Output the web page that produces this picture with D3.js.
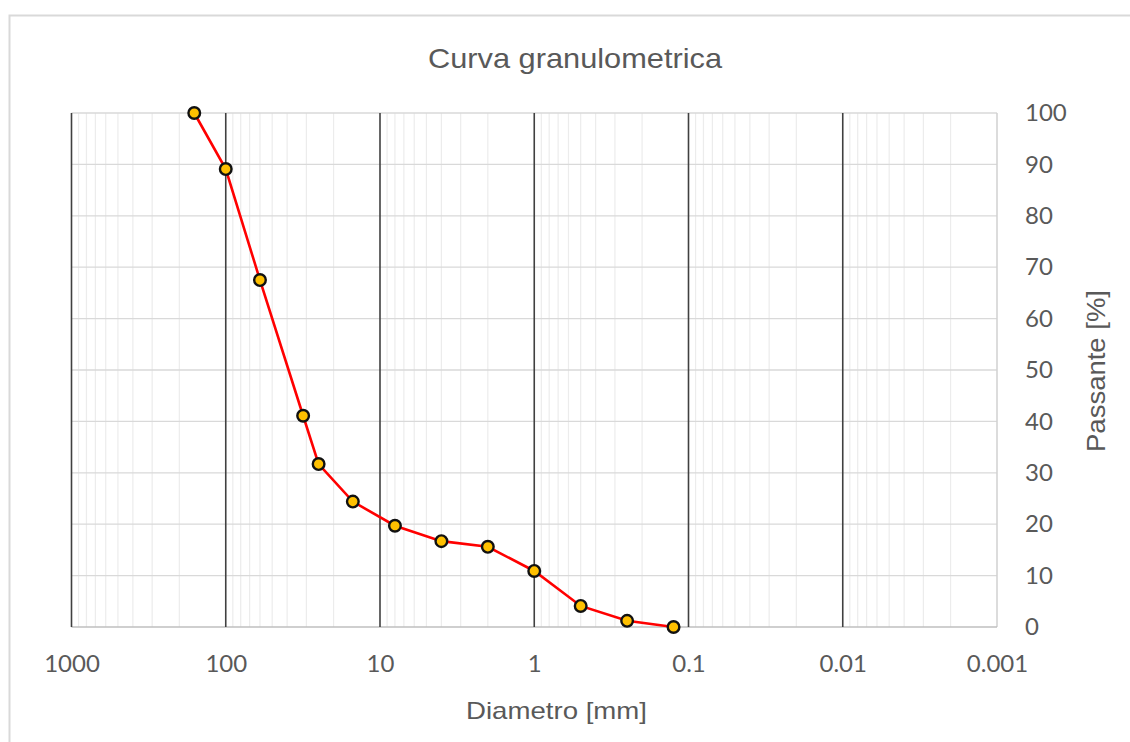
<!DOCTYPE html>
<html>
<head>
<meta charset="utf-8">
<script src="https://cdn.jsdelivr.net/npm/d3@7"></script>
<style>
  body { margin: 0; background: #fff; }
</style>
</head>
<body>
<div class="granviz"></div>
<script>
// sieve data
const diameters = [160, 100, 60, 31.5, 25, 15, 8, 4, 2, 1, 0.5, 0.25, 0.125];
const passing = [100, 89.1, 67.5, 41.1, 31.7, 24.4, 19.7, 16.7, 15.6, 10.9, 4.1, 1.2, 0];
const xTicks = [1000, 100, 10, 1, 0.1, 0.01, 0.001];
const yTicks = [0, 10, 20, 30, 40, 50, 60, 70, 80, 90, 100];

const W = 1130, H = 742;
const margin = { top: 113, right: 133, bottom: 115, left: 71.5 },
    width = W - margin.left - margin.right,
    height = H - margin.top - margin.bottom;

const svg = d3.select(".granviz")
    .append("svg")
    .attr("width", W)
    .attr("height", H);

// outer chart frame
svg.append("rect")
    .attr("x", 9.5).attr("y", 15.5)
    .attr("width", W).attr("height", H)
    .attr("fill", "none")
    .attr("stroke", "#d9d9d9")
    .attr("stroke-width", 2);

const g = svg.append("g")
    .attr("transform", `translate(${margin.left},${margin.top})`);

const x = d3.scaleLog()
    .domain([1000, 0.001])
    .range([0, width]);

const y = d3.scaleLinear()
    .domain([0, 100])
    .range([height, 0]);

// minor vertical grid (2..9 in each decade)
const minor = [];
for (let e = -3; e < 3; e++) {
    for (let m = 2; m <= 9; m++) minor.push(m * Math.pow(10, e));
}
g.selectAll(".minor")
    .data(minor)
    .join("line")
    .attr("x1", d => x(d)).attr("x2", d => x(d))
    .attr("y1", 0).attr("y2", height)
    .attr("stroke", "#ececec")
    .attr("stroke-width", 1.2);

// horizontal grid
g.selectAll(".hgrid")
    .data(yTicks.slice(1))
    .join("line")
    .attr("x1", 0).attr("x2", width)
    .attr("y1", d => y(d)).attr("y2", d => y(d))
    .attr("stroke", "#d9d9d9")
    .attr("stroke-width", 1.3);

// right edge + bottom axis line
g.append("line")
    .attr("x1", width).attr("x2", width)
    .attr("y1", 0).attr("y2", height)
    .attr("stroke", "#d0d0d0").attr("stroke-width", 1.5);
g.append("line")
    .attr("x1", 0).attr("x2", width)
    .attr("y1", height).attr("y2", height)
    .attr("stroke", "#bfbfbf").attr("stroke-width", 1.5);

// major decade lines
g.selectAll(".major")
    .data(xTicks.slice(0, -1))
    .join("line")
    .attr("x1", d => x(d)).attr("x2", d => x(d))
    .attr("y1", 0).attr("y2", height)
    .attr("stroke", "#404040")
    .attr("stroke-width", 1.6);

// x tick labels
const xAxis = g.append("g")
    .attr("transform", `translate(0, ${height})`)
    .call(d3.axisBottom(x).tickValues(xTicks).tickFormat(d => String(d)).tickSize(0).tickPadding(28));
xAxis.select(".domain").remove();
xAxis.selectAll("text")
    .style("font-family", "Lato, 'Open Sans', sans-serif")
    .style("font-size", "24px")
    .attr("fill", "#595959");

// y tick labels on right
const yAxis = g.append("g")
    .attr("transform", `translate(${width}, 0)`)
    .call(d3.axisRight(y).tickValues(yTicks).tickSize(0).tickPadding(28));
yAxis.select(".domain").remove();
yAxis.selectAll("text")
    .style("font-family", "Lato, 'Open Sans', sans-serif")
    .style("font-size", "24px")
    .attr("fill", "#595959");

// line + markers
const pts = diameters.map((d, i) => ({ d: d, p: passing[i] }));
g.append("path")
    .datum(pts)
    .attr("fill", "none")
    .attr("stroke", "#ff0000")
    .attr("stroke-width", 2.6)
    .attr("d", d3.line().x(d => x(d.d)).y(d => y(d.p)));

g.selectAll(".pt")
    .data(pts)
    .join("circle")
    .attr("cx", d => x(d.d))
    .attr("cy", d => y(d.p))
    .attr("r", 5.8)
    .attr("fill", "#ffc000")
    .attr("stroke", "#111")
    .attr("stroke-width", 2.4);

// titles
svg.append("text")
    .attr("x", 575).attr("y", 68)
    .attr("text-anchor", "middle")
    .attr("textLength", 294).attr("lengthAdjust", "spacingAndGlyphs")
    .style("font-family", "'Liberation Sans', Arial, sans-serif")
    .style("font-size", "28px")
    .attr("fill", "#595959")
    .text("Curva granulometrica");

svg.append("text")
    .attr("x", 556.5).attr("y", 719)
    .attr("text-anchor", "middle")
    .attr("textLength", 181).attr("lengthAdjust", "spacingAndGlyphs")
    .style("font-family", "'Liberation Sans', Arial, sans-serif")
    .style("font-size", "24px")
    .attr("fill", "#595959")
    .text("Diametro [mm]");

svg.append("text")
    .attr("transform", "translate(1105, 371) rotate(-90)")
    .attr("text-anchor", "middle")
    .attr("textLength", 162).attr("lengthAdjust", "spacingAndGlyphs")
    .style("font-family", "'Liberation Sans', Arial, sans-serif")
    .style("font-size", "25px")
    .attr("fill", "#595959")
    .text("Passante [%]");
</script>
</body>
</html>
